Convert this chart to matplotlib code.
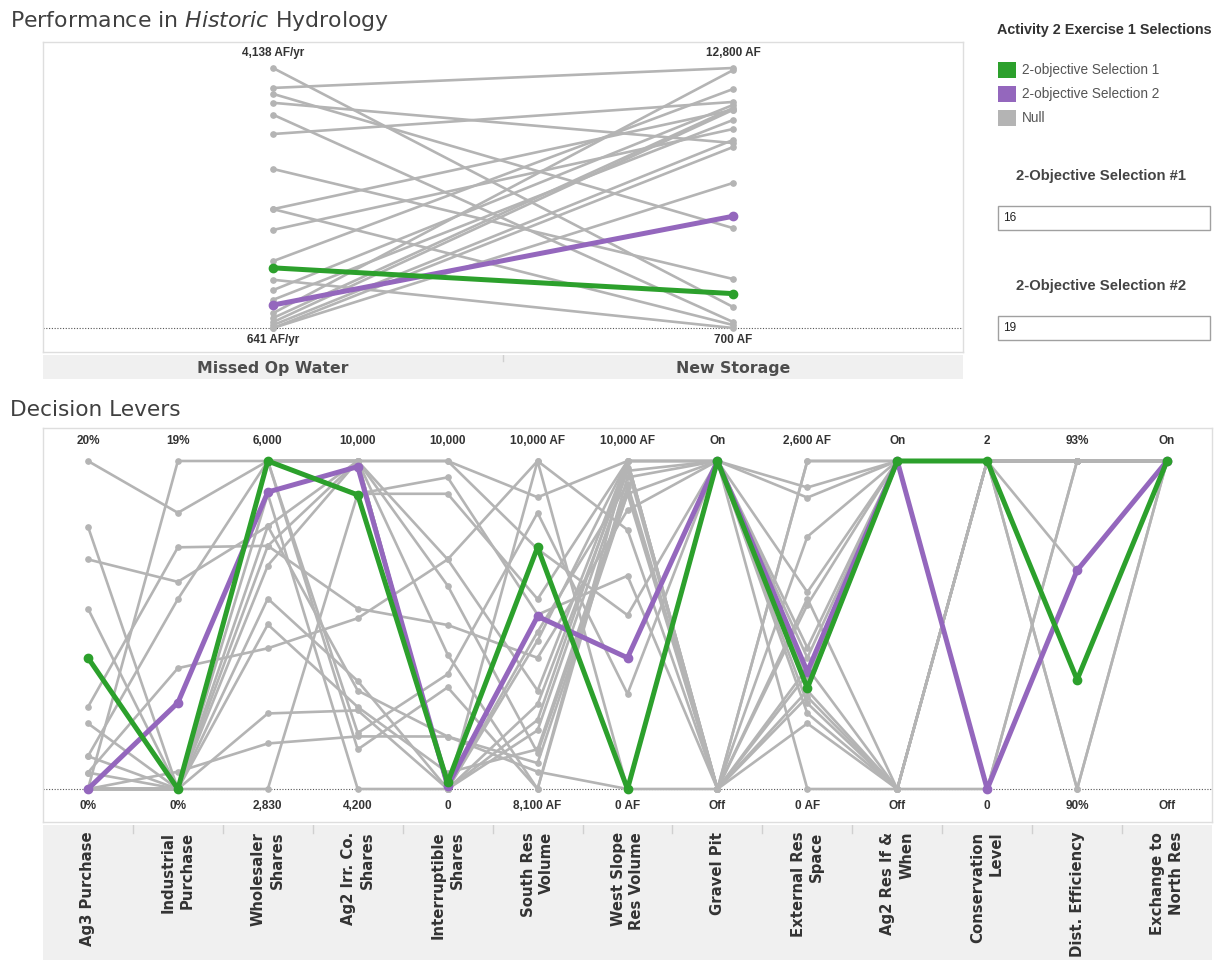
import matplotlib
matplotlib.use('Agg')
import matplotlib.pyplot as plt
from matplotlib.patches import Rectangle

plt.rcParams['font.family'] = ['Liberation Sans', 'DejaVu Sans']
plt.rcParams['mathtext.fontset'] = 'custom'
plt.rcParams['mathtext.rm'] = 'DejaVu Sans'
plt.rcParams['mathtext.it'] = 'DejaVu Sans:italic'

# ---- data: 20 unselected solutions, then selection 1 and selection 2 ----
selection = ['Null'] * 20 + ['2-objective Selection 1', '2-objective Selection 2']

# performance (historic hydrology)
missed_op_water = [4138, 3870, 3790, 3670, 3510, 3250, 2780, 2240, 2240, 1960,
                   1540, 1290, 1150, 1020, 840, 775, 720, 680, 641, 641, 1450, 950]
new_storage = [1680, 12800, 5350, 9310, 980, 11220, 2980, 10850, 840, 9960,
               11820, 700, 11080, 10380, 12700, 10940, 10850, 9450, 9120, 7450, 2300, 5900]
perf_names = ['Missed Op Water', 'New Storage']
perf_top = ['4,138 AF/yr', '12,800 AF']
perf_bottom = ['641 AF/yr', '700 AF']

# decision levers
ag3_purchase = [20, 16, 14, 11, 5, 4, 2, 1, 0, 0, 0, 0, 0, 0, 0, 0, 1, 2, 0, 0, 8, 0]
industrial_purchase = [16, 0, 12, 0, 14, 0, 11, 7, 19, 1, 0, 0, 0, 0, 0, 0, 0, 0, 0, 0, 0, 5]
wholesaler_shares = [6000, 4670, 5370, 6000, 5180, 3560, 6000, 4190, 6000, 3270, 4990,
                     2830, 6000, 6000, 5680, 6000, 6000, 5370, 5180, 4420, 6000, 5700]
ag2_irr_shares = [10000, 6110, 10000, 9420, 10000, 5590, 5190, 7220, 10000, 5130, 10000,
                  9420, 4900, 10000, 4200, 10000, 10000, 5940, 7390, 5650, 9400, 9900]
interruptible_shares = [10000, 0, 6200, 9500, 4100, 0, 3500, 7000, 0, 1600, 10000,
                        9000, 3100, 0, 0, 7000, 0, 1600, 5000, 500, 200, 100]
south_res_volume = [9790, 8590, 8310, 9110, 8100, 9010, 9700, 10000, 8500, 8200, 9490,
                    9200, 8100, 8960, 10000, 8670, 8440, 8250, 8860, 8330, 9500, 9100]
west_slope_volume = [10000, 9800, 9000, 6500, 10000, 9300, 2900, 7900, 10000, 0, 5300,
                     10000, 9500, 10000, 0, 10000, 9700, 9000, 8500, 9200, 0, 4000]
gravel_pit = ['On', 'Off', 'On', 'Off', 'On', 'Off', 'On', 'Off', 'On', 'Off', 'On',
              'Off', 'On', 'Off', 'On', 'Off', 'On', 'Off', 'On', 'Off', 'On', 'On']
external_res_space = [2390, 1510, 680, 2600, 1120, 520, 2310, 1460, 780, 2000, 0,
                      910, 600, 2600, 1040, 780, 860, 730, 1560, 960, 800, 930]
ag2_res_if_when = ['On', 'Off', 'Off', 'On', 'On', 'Off', 'On', 'On', 'On', 'On', 'Off',
                   'On', 'Off', 'On', 'On', 'Off', 'On', 'Off', 'On', 'Off', 'On', 'On']
conservation_level = [2, 2, 2, 2, 2, 0, 2, 2, 2, 2, 2, 2, 2, 2, 2, 2, 0, 2, 2, 2, 2, 0]
dist_efficiency = [93, 93, 93, 93, 93, 93, 92, 93, 93, 90, 93, 93, 93, 93, 90, 93,
                   93, 93, 93, 93, 91, 92]
exchange_north = ['On'] * 22

lever_names = ['Ag3 Purchase', 'Industrial\nPurchase', 'Wholesaler\nShares',
               'Ag2 Irr. Co.\nShares', 'Interruptible\nShares', 'South Res\nVolume',
               'West Slope\nRes Volume', 'Gravel Pit', 'External Res\nSpace',
               'Ag2 Res If &\nWhen', 'Conservation\nLevel', 'Dist. Efficiency',
               'Exchange to\nNorth Res']
lever_top = ['20%', '19%', '6,000', '10,000', '10,000', '10,000 AF', '10,000 AF',
             'On', '2,600 AF', 'On', '2', '93%', 'On']
lever_bottom = ['0%', '0%', '2,830', '4,200', '0', '8,100 AF', '0 AF', 'Off', '0 AF',
                'Off', '0', '90%', 'Off']

colors = {'2-objective Selection 1': '#2ca02c', '2-objective Selection 2': '#9467bd',
          'Null': '#b4b4b4'}
TXT = '#333333'

W, H = 1221, 960
fig = plt.figure(figsize=(W / 100, H / 100), dpi=100)


def px_axes(x0, y0, x1, y1):
    return fig.add_axes([x0 / W, 1 - y1 / H, (x1 - x0) / W, (y1 - y0) / H])


def normalise(col):
    if col[0] in ('On', 'Off'):
        # switches: Off at the bottom, On at the top
        return [1.0 if v == 'On' else 0.0 for v in col]
    lo, hi = min(col), max(col)
    return [(v - lo) / (hi - lo) for v in col]


def draw_lines(ax, columns):
    cols = [normalise(c) for c in columns]
    xs = list(range(len(cols)))
    order = [i for i in range(len(selection)) if selection[i] == 'Null']
    order += [i for i in range(len(selection)) if selection[i] == '2-objective Selection 2']
    order += [i for i in range(len(selection)) if selection[i] == '2-objective Selection 1']
    for i in order:
        ys = [c[i] for c in cols]
        sel = selection[i]
        if sel == 'Null':
            ax.plot(xs, ys, color=colors[sel], lw=1.9, marker='o', ms=3.8, zorder=2)
        else:
            ax.plot(xs, ys, color=colors[sel], lw=3.6, marker='o', ms=6, zorder=3)


def frame(ax, n, ylo, yhi):
    ax.set_xlim(-0.5, n - 0.5)
    ax.set_ylim(ylo, yhi)
    ax.set_xticks([])
    ax.set_yticks([])
    for s in ax.spines.values():
        s.set_color('#dedede')
        s.set_linewidth(1)
    ax.axhline(0, color='#555555', lw=0.8, ls=(0, (1, 1.5)), zorder=1)


# ---- titles ----
fig.text(10 / W, 1 - 21 / H, r'Performance in $\it{Historic}$ Hydrology', fontsize=15.8,
         family='DejaVu Sans', color='#404040', va='center')
fig.text(10 / W, 1 - 410 / H, 'Decision Levers', fontsize=15.6, family='DejaVu Sans',
         color='#404040', va='center')

# ---- performance plot ----
ax1 = px_axes(43, 42, 963, 352)
frame(ax1, 2, -0.0923, 1.1)
draw_lines(ax1, [missed_op_water, new_storage])
for i in range(2):
    ax1.text(i, 1.058, perf_top[i], ha='center', va='center', fontsize=8.5,
             fontweight='bold', color=TXT)
    ax1.text(i, -0.046, perf_bottom[i], ha='center', va='center', fontsize=8.5,
             fontweight='bold', color=TXT)

band1 = px_axes(43, 355, 963, 379)
band1.set_facecolor('#f0f0f0')
band1.set_xlim(-0.5, 1.5)
band1.set_ylim(0, 1)
band1.set_xticks([])
band1.set_yticks([])
for s in band1.spines.values():
    s.set_visible(False)
band1.plot([0.5, 0.5], [0.75, 1], color='#d0d0d0', lw=1)
for i, name in enumerate(perf_names):
    band1.text(i, 0.45, name, ha='center', va='center', fontsize=11.3, fontweight='bold',
               family='DejaVu Sans', color='#4d4d4d')

# ---- decision lever plot ----
ax2 = px_axes(43, 428, 1212, 822)
frame(ax2, 13, -0.1006, 1.1006)
draw_lines(ax2, [ag3_purchase, industrial_purchase, wholesaler_shares, ag2_irr_shares,
                 interruptible_shares, south_res_volume, west_slope_volume, gravel_pit,
                 external_res_space, ag2_res_if_when, conservation_level,
                 dist_efficiency, exchange_north])
for i in range(13):
    ax2.text(i, 1.061, lever_top[i], ha='center', va='center', fontsize=8.5,
             fontweight='bold', color=TXT)
    ax2.text(i, -0.052, lever_bottom[i], ha='center', va='center', fontsize=8.5,
             fontweight='bold', color=TXT)

band2 = px_axes(43, 825, 1212, 960)
band2.set_facecolor('#f0f0f0')
band2.set_xlim(-0.5, 12.5)
band2.set_ylim(1, 0)
band2.set_xticks([])
band2.set_yticks([])
for s in band2.spines.values():
    s.set_visible(False)
for k in range(12):
    band2.plot([k + 0.5, k + 0.5], [0, 0.06], color='#d0d0d0', lw=1)
for i, name in enumerate(lever_names):
    band2.text(i, 0.05, name, rotation=90, ha='center', va='top', multialignment='right',
               fontsize=10.7, fontweight='bold', family='DejaVu Sans', color=TXT,
               linespacing=1.3)

# ---- legend and parameter boxes ----
fig.text(1104 / W, 1 - 30 / H, 'Activity 2 Exercise 1 Selections', ha='center',
         va='center', fontsize=10.4, fontweight='bold', color=TXT)
for k, name in enumerate(['2-objective Selection 1', '2-objective Selection 2', 'Null']):
    yc = 70 + 24 * k
    fig.add_artist(Rectangle((998 / W, 1 - (yc + 8) / H), 18 / W, 16 / H,
                             transform=fig.transFigure, color=colors[name], lw=0))
    fig.text(1022 / W, 1 - yc / H, name, ha='left', va='center', fontsize=9.8,
             color='#555555')

for k, (label, val) in enumerate([('2-Objective Selection #1', '16'),
                                  ('2-Objective Selection #2', '19')]):
    yt = 176 + 110 * k
    fig.text(1101 / W, 1 - yt / H, label, ha='center', va='center', fontsize=10.7,
             fontweight='bold', color='#444444')
    yb = 206 + 110 * k
    fig.add_artist(Rectangle((998 / W, 1 - (yb + 24) / H), 212 / W, 24 / H,
                             transform=fig.transFigure, facecolor='white',
                             edgecolor='#a0a0a0', lw=1))
    fig.text(1003 / W, 1 - (yb + 12) / H, val, ha='left', va='center', fontsize=8.5,
             color='#222222')

fig.savefig('out.png', dpi=100)
